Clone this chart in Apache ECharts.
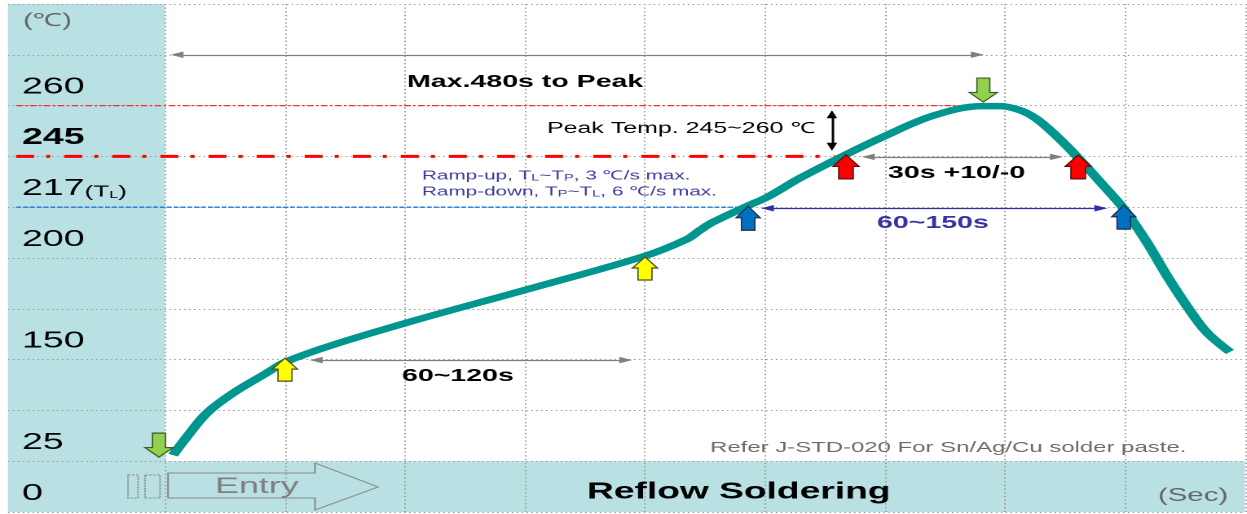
<!DOCTYPE html>
<html>
<head>
<meta charset="utf-8">
<title>Reflow Soldering</title>
<script src="https://cdn.jsdelivr.net/npm/echarts@6/dist/echarts.min.js"></script>
<style>
  html, body { margin: 0; padding: 0; background: #fff; overflow: hidden; }
  #main { height: 514px; transform-origin: 0 0; }
</style>
</head>
<body>
<div id="main"></div>
<script>
// the source picture is stretched sideways, so draw it narrower and widen it with css
var SX = 1.63;
var W = 1247 / SX;

// y axis works in grid rows (the temperature labels are not linear)
var rowTicks = [0, 1, 2, 3, 4, 5, 6, 7, 8, 9, 10];
var rowLabels = ["0", "25", "", "150", "", "200", "217", "245", "260", "", ""];
// x axis works in grid columns, left panel runs from X0 to 0
var X0 = -1.308, X1 = 9;
var colLines = [X0, 0, 1, 2, 3, 4, 5, 6, 7, 8, 9];

// temperature profile (column, row)
var profileX = [0.067, 0.183, 0.35, 0.567, 0.85, 1.0, 1.4, 2.125, 3.0, 4.0, 4.35, 4.46, 4.57, 4.85, 5.02,
  5.29, 5.67, 5.98, 6.4, 6.81, 6.96, 7.125, 7.25, 7.375, 7.517, 7.65, 7.8, 7.99, 8.18, 8.35, 8.52, 8.68, 8.875];
var profileY = [1.12, 1.48, 1.95, 2.34, 2.74, 2.95, 3.29, 3.8, 4.37, 5.04, 5.37, 5.55, 5.71, 6.02, 6.2,
  6.57, 7.03, 7.38, 7.8, 7.99, 7.99, 7.91, 7.76, 7.52, 7.2, 6.87, 6.48, 5.97, 5.32, 4.65, 4.04, 3.54, 3.15];

// limit lines: 260, 245, 217(TL)
var levelRows = [8, 7, 6];
var levelFrom = -1.24;
var levelTo = [6.75, 5.58, 4.77];

// block arrows (tip position)
var greenDown = [[-0.05, 1.08], [6.82, 8.07]];
var yellowUp = [[1.0, 3.03], [4.0, 5.02]];
var blueUp = [[4.86, 6.02], [7.99, 6.04]];
var redUp = [[5.675, 7.03], [7.61, 7.03]];

// dimension arrows [x1, y1, x2, y2]
var spanMax = [0.1, 9.0, 6.77, 9.0];
var span30 = [5.86, 6.99, 7.43, 6.99];
var span120 = [1.26, 2.99, 3.84, 2.99];
var span150 = [5.02, 5.98, 7.8, 5.98];
var spanPeak = [5.558, 7.83, 5.558, 7.19];

var dom = document.getElementById("main");
dom.style.width = W + "px";
dom.style.transform = "scaleX(" + SX + ")";
var chart = echarts.init(dom, null, { devicePixelRatio: 2 });

var FONT = '"Liberation Sans", Arial, sans-serif';
function px(x) { return x / SX; } // picture x -> drawing x

var upPath = "path://M50,0L100,48L78,48L78,100L22,100L22,48L0,48Z";
var downPath = "path://M27,0L73,0L73,60L100,60L50,100L0,60L27,60Z";

function blockArrows(name, data, path, w, h, fill, edge, up) {
  return {
    name: name,
    type: "scatter",
    z: 9,
    silent: true,
    data: data,
    symbol: path,
    symbolSize: [px(w), h],
    symbolOffset: [0, up ? h / 2 : -h / 2],
    itemStyle: { color: fill, borderColor: edge, borderWidth: 1, opacity: 1 },
  };
}

function span(s, color, width) {
  return [
    { coord: [s[0], s[1]], symbol: "triangle", symbolSize: [6.5, 8], lineStyle: { color: color, width: width, type: "solid" } },
    { coord: [s[2], s[3]], symbol: "triangle", symbolSize: [6.5, 8] },
  ];
}

var gridColor = "#9c9c9c";
var gridLines = colLines.map(function (v) {
  return { xAxis: v, lineStyle: { color: gridColor, width: 1, type: [1.3, 2.4] } };
}).concat(rowTicks.map(function (v) {
  return { yAxis: v, lineStyle: { color: gridColor, width: 1, type: [1, 2] } };
}));

var levelStyles = [
  { color: "#ff2a2a", width: 1.3, type: [4, 1.5, 1.5, 1.5] },
  { color: "#ff0000", width: 3, type: [11, 7.4, 2.5, 8.6] },
  { color: "#1f78e0", width: 1.4, type: [3, 1.2] },
];
var levelSeries = levelRows.map(function (r, i) {
  return {
    name: "level" + i,
    type: "line",
    z: 7,
    silent: true,
    symbol: "none",
    data: [[levelFrom, r], [levelTo[i], r]],
    lineStyle: levelStyles[i],
  };
});

function note(text, x, y, size, opts) {
  opts = opts || {};
  return {
    type: "text",
    x: px(x),
    y: y,
    z: 20,
    silent: true,
    style: {
      text: text,
      fontSize: size,
      fontFamily: FONT,
      fontWeight: opts.bold ? "bold" : "normal",
      fill: opts.color || "#000",
      align: "left",
      verticalAlign: "middle",
      rich: opts.rich,
    },
  };
}

var subRich = {
  s: { fontSize: 9, fontFamily: FONT, fill: "#3d3d9e", verticalAlign: "bottom", lineHeight: 11 },
};

var option = {
  animation: false,
  grid: { left: px(8), right: W - px(1245), top: 4, bottom: 2 },
  xAxis: { type: "value", min: X0, max: X1, show: false },
  yAxis: {
    type: "value",
    min: 0,
    max: 10,
    interval: 1,
    z: 8,
    axisLine: { show: false },
    axisTick: { show: false },
    splitLine: { show: false },
    axisLabel: {
      inside: true,
      margin: px(22) - px(8),
      verticalAlign: "bottom",
      padding: [0, 0, 7, 0],
      fontSize: 23,
      fontFamily: FONT,
      color: "#000",
      formatter: function (v) {
        var t = rowLabels[rowTicks.indexOf(v)] || "";
        if (t === "245") return "{b|245}";
        if (t === "217") return "217{p|(T}{s|L}{p|)}";
        return t;
      },
      rich: {
        b: { fontSize: 23, fontWeight: "bold", fontFamily: FONT, color: "#000" },
        p: { fontSize: 16, fontFamily: FONT, color: "#000", verticalAlign: "bottom", lineHeight: 20 },
        s: { fontSize: 10, fontFamily: FONT, color: "#000", verticalAlign: "bottom", lineHeight: 13 },
      },
    },
  },
  graphic: [
    note("(℃)", 23, 21, 18, { color: "#666" }),
    note("Max.480s to Peak", 407, 82, 17.5, { bold: true }),
    note("Peak Temp. 245~260 ℃", 547, 129, 15.3),
    note("Ramp-up, T{s|L}~T{s|P}, 3 ℃/s max.", 422, 176, 12.7, { color: "#3d3d9e", rich: subRich }),
    note("Ramp-down, T{s|P}~T{s|L}, 6 ℃/s max.", 422, 192, 12.7, { color: "#3d3d9e", rich: subRich }),
    note("30s +10/-0", 888, 173, 17.5, { bold: true }),
    note("60~150s", 877, 223, 17.5, { bold: true, color: "#3535a0" }),
    note("60~120s", 402, 376, 17.5, { bold: true }),
    note("Refer J-STD-020 For Sn/Ag/Cu solder paste.", 710, 448, 14.7, { color: "#6b6b6b" }),
    note("Reflow Soldering", 587, 492, 22.8, { bold: true }),
    note("(Sec)", 1158, 496, 18, { color: "#666" }),
    note("Entry", 215, 487, 22, { color: "#808080" }),
    {
      type: "polygon",
      z: 20,
      silent: true,
      shape: {
        points: [[168, 473], [315, 473], [315, 463], [378, 487], [315, 510], [315, 498], [168, 498]].map(function (p) {
          return [px(p[0]), p[1]];
        }),
      },
      style: { fill: null, stroke: "#8a8a8a", lineWidth: 1 },
    },
    {
      type: "rect", z: 20, silent: true,
      shape: { x: px(128), y: 475, width: px(10), height: 23 },
      style: { fill: null, stroke: "#8a8a8a", lineWidth: 1, lineDash: [1.5, 1] },
    },
    {
      type: "rect", z: 20, silent: true,
      shape: { x: px(145), y: 475, width: px(15), height: 23 },
      style: { fill: null, stroke: "#8a8a8a", lineWidth: 1, lineDash: [1.5, 1] },
    },
  ],
  series: [
    {
      // background bands, dotted grid and dimension arrows
      name: "frame",
      type: "line",
      data: [],
      markArea: {
        silent: true,
        itemStyle: { color: "#b9e0e3" },
        data: [
          [{ coord: [X0, 0] }, { coord: [0, 10] }],
          [{ coord: [0, 0] }, { coord: [X1, 1] }],
        ],
      },
      markLine: {
        silent: true,
        symbol: "none",
        label: { show: false },
        emphasis: { disabled: true },
        data: gridLines.concat([
          span(spanMax, "#7f7f7f", 1.3),
          span(span30, "#7f7f7f", 1.3),
          span(span120, "#7f7f7f", 1.3),
          span(span150, "#2e2e9e", 1.3),
          span(spanPeak, "#000000", 1.5),
        ]),
      },
    },
  ].concat(levelSeries).concat([
    {
      name: "profile",
      type: "line",
      z: 8,
      silent: true,
      smooth: 0.35,
      showSymbol: false,
      data: profileX.map(function (x, i) { return [x, profileY[i]]; }),
      lineStyle: { color: "#00968f", width: 6.5 },
    },
    blockArrows("green", greenDown, downPath, 28, 24, "#92d050", "#3f5a22", false),
    blockArrows("yellow", yellowUp, upPath, 25, 23, "#ffff00", "#4d4d1a", true),
    blockArrows("blue", blueUp, upPath, 24, 24, "#0070c0", "#1f2f4f", true),
    blockArrows("red", redUp, upPath, 26, 24, "#ff0000", "#5a1010", true),
  ]),
};

chart.setOption(option);
</script>
</body>
</html>
